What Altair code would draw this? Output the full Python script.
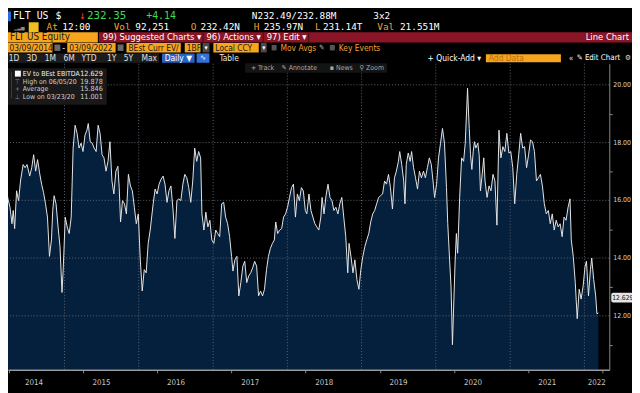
import altair as alt
import pandas as pd

# ---------------- data: EV to BEst EBITDA (FLT US), decimal year -> value ----------------
DEC_YEARS = [
    2014.185, 2014.212, 2014.238, 2014.265, 2014.292, 2014.309, 2014.328, 2014.354, 2014.381, 2014.407,
    2014.442, 2014.468, 2014.495, 2014.531, 2014.558, 2014.584, 2014.611, 2014.637, 2014.664, 2014.691,
    2014.717, 2014.744, 2014.770, 2014.797, 2014.824, 2014.841, 2014.860, 2014.886, 2014.913, 2014.939,
    2014.966, 2014.983, 2015.010, 2015.036, 2015.063, 2015.090, 2015.116, 2015.143, 2015.169, 2015.196,
    2015.223, 2015.249, 2015.276, 2015.302, 2015.320, 2015.346, 2015.373, 2015.399, 2015.426, 2015.453,
    2015.479, 2015.506, 2015.532, 2015.559, 2015.586, 2015.612, 2015.639, 2015.665, 2015.692, 2015.719,
    2015.737, 2015.755, 2015.781, 2015.808, 2015.834, 2015.861, 2015.888, 2015.914, 2015.941, 2015.967,
    2015.994, 2016.021, 2016.047, 2016.074, 2016.100, 2016.127, 2016.154, 2016.194, 2016.220, 2016.247,
    2016.273, 2016.300, 2016.327, 2016.353, 2016.380, 2016.406, 2016.433, 2016.460, 2016.486, 2016.513,
    2016.539, 2016.566, 2016.593, 2016.619, 2016.646, 2016.672, 2016.699, 2016.726, 2016.752, 2016.779,
    2016.805, 2016.832, 2016.849, 2016.876, 2016.902, 2016.929, 2016.956, 2016.982, 2017.009, 2017.035,
    2017.062, 2017.088, 2017.115, 2017.142, 2017.168, 2017.195, 2017.222, 2017.248, 2017.267, 2017.293,
    2017.320, 2017.346, 2017.373, 2017.400, 2017.426, 2017.453, 2017.479, 2017.506, 2017.533, 2017.559,
    2017.586, 2017.612, 2017.639, 2017.666, 2017.692, 2017.719, 2017.745, 2017.772, 2017.799, 2017.825,
    2017.843, 2017.869, 2017.896, 2017.923, 2017.949, 2017.976, 2018.002, 2018.029, 2018.056, 2018.082,
    2018.109, 2018.135, 2018.162, 2018.189, 2018.215, 2018.242, 2018.262, 2018.291, 2018.318, 2018.344,
    2018.371, 2018.397, 2018.424, 2018.451, 2018.468, 2018.494, 2018.521, 2018.548, 2018.574, 2018.601,
    2018.627, 2018.654, 2018.681, 2018.707, 2018.734, 2018.760, 2018.787, 2018.814, 2018.831, 2018.857,
    2018.884, 2018.910, 2018.937, 2018.964, 2018.990, 2019.017, 2019.044, 2019.070, 2019.097, 2019.123,
    2019.150, 2019.177, 2019.203, 2019.230, 2019.256, 2019.283, 2019.310, 2019.336, 2019.363, 2019.389,
    2019.416, 2019.443, 2019.469, 2019.496, 2019.514, 2019.541, 2019.568, 2019.585, 2019.602, 2019.629,
    2019.655, 2019.674, 2019.701, 2019.727, 2019.754, 2019.780, 2019.807, 2019.834, 2019.860, 2019.887,
    2019.913, 2019.940, 2019.967, 2019.984, 2020.011, 2020.037, 2020.064, 2020.090, 2020.117, 2020.144,
    2020.161, 2020.188, 2020.205, 2020.215, 2020.224, 2020.259, 2020.277, 2020.294, 2020.321, 2020.347,
    2020.374, 2020.396, 2020.427, 2020.440, 2020.450, 2020.467, 2020.485, 2020.503, 2020.520, 2020.538,
    2020.565, 2020.583, 2020.600, 2020.619, 2020.645, 2020.662, 2020.689, 2020.716, 2020.742, 2020.769,
    2020.795, 2020.822, 2020.849, 2020.875, 2020.902, 2020.928, 2020.955, 2020.982, 2021.008, 2021.035,
    2021.061, 2021.088, 2021.115, 2021.141, 2021.168, 2021.194, 2021.221, 2021.248, 2021.274, 2021.301,
    2021.327, 2021.354, 2021.381, 2021.407, 2021.434, 2021.460, 2021.487, 2021.514, 2021.540, 2021.567,
    2021.593, 2021.620, 2021.647, 2021.673, 2021.700, 2021.726, 2021.753, 2021.780, 2021.806, 2021.823,
    2021.850, 2021.877, 2021.903, 2021.930, 2021.956, 2021.983, 2022.009, 2022.028, 2022.055, 2022.081,
    2022.099, 2022.125, 2022.152, 2022.169, 2022.188,
]
VALUES = [
    17.18, 16.44, 16.05, 15.76, 15.19, 15.65, 15.02, 16.33, 15.99, 16.67,
    17.24, 17.13, 17.24, 16.84, 17.13, 17.58, 17.01, 17.41, 16.95, 16.56,
    16.27, 15.88, 15.42, 14.06, 14.63, 15.65, 16.16, 15.88, 15.08, 14.40,
    12.81, 13.66, 15.42, 15.08, 14.85, 15.42, 17.81, 18.60, 18.32, 17.81,
    17.98, 17.69, 18.26, 18.43, 18.66, 18.03, 17.98, 17.81, 17.69, 18.60,
    18.32, 17.58, 17.47, 17.01, 17.35, 18.03, 16.67, 16.22, 17.01, 17.18,
    16.44, 15.25, 15.99, 15.88, 15.53, 16.90, 16.50, 16.33, 15.76, 15.19,
    15.53, 13.94, 12.86, 13.60, 13.49, 14.51, 14.97, 15.88, 16.39, 16.22,
    16.56, 16.73, 16.84, 16.56, 15.93, 16.33, 16.50, 15.70, 14.68, 15.99,
    16.05, 15.99, 16.56, 16.90, 16.78, 16.44, 15.93, 16.67, 17.81, 17.35,
    17.69, 17.47, 15.53, 14.97, 15.59, 15.08, 15.31, 14.63, 14.51, 14.97,
    14.85, 14.74, 15.88, 15.93, 15.42, 15.19, 14.74, 14.06, 13.55, 13.94,
    14.06, 12.69, 13.15, 13.72, 13.89, 13.15, 13.38, 13.49, 13.66, 13.89,
    13.72, 12.69, 12.86, 12.69, 12.92, 13.60, 14.06, 14.34, 14.51, 14.63,
    15.25, 14.85, 14.97, 15.02, 15.42, 15.53, 15.76, 16.10, 16.44, 16.56,
    15.42, 16.22, 15.99, 16.44, 16.33, 15.65, 15.53, 16.22, 15.65, 15.42,
    15.19, 15.08, 14.97, 15.42, 16.10, 15.53, 16.16, 16.56, 16.10, 15.99,
    15.65, 15.76, 15.53, 15.88, 16.10, 15.42, 14.74, 13.49, 14.51, 14.06,
    13.49, 13.94, 13.26, 12.92, 13.60, 14.06, 14.40, 14.63, 14.85, 15.25,
    15.53, 15.65, 15.88, 16.10, 16.16, 16.22, 16.67, 16.56, 16.90, 16.44,
    15.70, 16.78, 17.01, 17.35, 17.69, 17.24, 16.67, 15.88, 17.24, 17.64,
    17.35, 17.69, 17.13, 16.78, 16.39, 17.01, 16.78, 17.01, 16.78, 17.13,
    17.47, 17.24, 16.56, 16.10, 16.56, 17.47, 17.98, 18.49, 17.98, 16.44,
    15.19, 13.83, 13.00, 12.00, 11.00, 13.83, 14.85, 14.17, 16.10, 17.47,
    17.35, 17.98, 19.88, 19.06, 18.49, 17.58, 17.07, 17.69, 18.03, 17.81,
    17.98, 17.58, 16.33, 16.78, 17.47, 16.67, 16.10, 16.50, 16.33, 16.90,
    16.67, 15.14, 18.43, 17.47, 17.86, 17.69, 18.32, 17.64, 17.69, 17.13,
    15.88, 16.90, 17.58, 18.32, 17.81, 17.86, 17.13, 17.58, 18.09, 18.03,
    17.69, 16.67, 16.78, 16.90, 16.50, 15.88, 15.53, 15.65, 15.19, 15.53,
    14.97, 15.31, 15.08, 15.19, 14.74, 15.42, 15.31, 15.76, 16.05, 14.63,
    14.06, 13.15, 11.90, 12.92, 12.58, 13.03, 13.72, 13.89, 12.69, 13.60,
    14.00, 13.26, 12.69, 12.07, 12.10,
]

YEAR_LABELS = ["2014", "2015", "2016", "2017", "2018", "2019", "2020", "2021", "2022"]
YEAR_LABEL_DATES = ["2014-08-04", "2015-07-02", "2016-07-02", "2017-07-02", "2018-07-02",
                    "2019-07-02", "2020-07-02", "2021-07-02", "2022-03-03"]
GRID_YEARS = ["2015-01-01", "2016-01-01", "2017-01-01", "2018-01-01", "2019-01-01",
              "2020-01-01", "2021-01-01", "2022-01-01"]
GRID_VALUES = [12, 14, 16, 18, 20]
Y_LABELS = ["12.00", "14.00", "16.00", "18.00", "20.00"]
Y_TICKS = [11, 12, 13, 14, 15, 16, 17, 18, 19, 20]
Y_MIN, Y_MAX = 10.13, 20.73
LAST_VALUE = 12.629
LAST_LABEL = "12.629"
LEGEND_ROWS = [("EV to BEst EBITDA", "12.629"), ("High on 06/05/20", "19.878"),
               ("Average", "15.846"), ("Low on 03/23/20", "11.001")]


def dec_to_ts(y):
    yr = int(y)
    start = pd.Timestamp(yr, 1, 1)
    end = pd.Timestamp(yr + 1, 1, 1)
    return start + (end - start) * (y - yr)


df = pd.DataFrame({"date": [dec_to_ts(v) for v in DEC_YEARS], "value": VALUES})

# ---------------- style ----------------
MONO = "DejaVu Sans Mono"
SANS = "Liberation Sans Narrow, DejaVu Sans Condensed, Roboto, sans-serif"
NAVY = "#05203d"
AMBER = "#f7a51c"
DARKRED = "#8a1526"
ORANGE = "#f0a030"
GREEN = "#3ddc55"
W, H = 609, 310
OX, OY = 8, 62  # page position of plot origin

BLANK = pd.DataFrame({"k": [0]})


def T(text, px, py, color="#ffffff", size=9, font=SANS, align="left", weight="normal"):
    return alt.Chart(BLANK).mark_text(
        text=text, align=align, baseline="middle", fontSize=size, font=font,
        color=color, fontWeight=weight
    ).encode(x=alt.value(px - OX), y=alt.value(py - OY))


def R(px1, px2, py1, py2, color, opacity=1.0):
    return alt.Chart(BLANK).mark_rect(color=color, opacity=opacity).encode(
        x=alt.value(px1 - OX), x2=alt.value(px2 - OX),
        y=alt.value(py1 - OY), y2=alt.value(py2 - OY))


quarters = [alt.DateTime(year=y, month=m, date=1)
            for y in range(2014, 2023) for m in (1, 4, 7, 10)
            if (2014, 4) <= (y, m) <= (2022, 4)]

is_year = "month(datum.value) == 0"
x_axis = alt.Axis(values=quarters, labels=False, title=None, grid=False,
                  tickSize={"condition": {"test": is_year, "value": 18}, "value": 3},
                  tickColor="#8a8a8a", domainColor="#9a9a9a", domainWidth=1.5, zindex=1)
y_axis = alt.Axis(orient="right", values=Y_TICKS, title=None, grid=False, labels=False,
                  tickSize=3, tickColor="#8a8a8a", domainColor="#8a8a8a", zindex=1)

x_enc = alt.X("date:T", axis=x_axis,
              scale=alt.Scale(domain=[alt.DateTime(year=2014, month=3, date=29),
                                      alt.DateTime(year=2022, month=5, date=3, hours=10)]))
y_enc = alt.Y("value:Q", axis=y_axis,
              scale=alt.Scale(domain=[Y_MIN, Y_MAX], nice=False, zero=False))

area = alt.Chart(df).mark_area(color=NAVY, clip=True).encode(
    x=x_enc, y=y_enc, y2=alt.datum(Y_MIN))

grid_style = dict(color="#5c6470", strokeDash=[1, 2], strokeWidth=1)
grid_y = alt.Chart(pd.DataFrame({"value": GRID_VALUES})).mark_rule(**grid_style).encode(y="value:Q")
grid_x = alt.Chart(pd.DataFrame({"date": GRID_YEARS})).mark_rule(**grid_style).encode(x="date:T")

line = alt.Chart(df).mark_line(color="#e6e6e6", strokeWidth=1, clip=True).encode(
    x="date:T", y="value:Q")

year_labels = alt.Chart(pd.DataFrame({"date": YEAR_LABEL_DATES, "label": YEAR_LABELS})).mark_text(
    color="#c8c8c8", fontSize=8, font=SANS, baseline="middle"
).encode(x="date:T", y=alt.value(323), text="label:N")

y_labels = alt.Chart(pd.DataFrame({"value": GRID_VALUES, "label": Y_LABELS})).mark_text(
    color="#d0d0d0", fontSize=7, font=SANS, baseline="middle", align="left"
).encode(y="value:Q", x=alt.value(613), text="label:N")

tag_rect = alt.Chart(BLANK).mark_rect(color="#e4e4e4", cornerRadius=2).encode(
    x=alt.value(611), x2=alt.value(640), y=alt.datum(LAST_VALUE + 0.17), y2=alt.datum(LAST_VALUE - 0.17))
tag_text = alt.Chart(BLANK).mark_text(text=LAST_LABEL, color="#111111", fontSize=6.8, font=SANS,
                                      align="left", baseline="middle").encode(
    x=alt.value(612), y=alt.datum(LAST_VALUE))

layers = [area, grid_y, grid_x, line, year_labels, y_labels, tag_rect, tag_text]

# ---------------- header (terminal chrome) ----------------
Y1, Y2 = 14, 25
B3, C3 = (30, 40.5), 35.3
B4, C4 = (41, 50.5), 45.8
B5, C5 = (51.5, 61), 56.3

hdr = [
    R(8, 11, 9, 19, "#2f6bd8"),
    T("FLT US", 13, Y1, "#ffffff", 10, MONO),
    T("$", 56, Y1, "#ffffff", 10, MONO),
    T("↓", 80, Y1, "#ff3030", 11, MONO),
    T("232.35", 88, Y1, GREEN, 11, MONO),
    T("+4.14", 148, Y1, GREEN, 10, MONO),
    T("N232.49/232.88M", 255, Y1, "#ffffff", 9.5, MONO),
    T("3x2", 378, Y1, "#ffffff", 9.5, MONO),
    T("▁▂▄", 14, Y2, "#8a8a8a", 6, MONO),
    R(29, 39, Y2 - 5, Y2 + 5, "#f0c020"),
    T("At", 47, Y2, ORANGE, 9.5, MONO), T("12:00", 63, Y2, "#ffffff", 9.5, MONO),
    T("Vol", 115, Y2, ORANGE, 9.5, MONO), T("92,251", 137, Y2, "#ffffff", 9.5, MONO),
    T("O", 193, Y2, ORANGE, 9.5, MONO), T("232.42N", 203, Y2, "#ffffff", 9.5, MONO),
    T("H", 257, Y2, ORANGE, 9.5, MONO), T("235.97N", 267, Y2, "#ffffff", 9.5, MONO),
    T("L", 319, Y2, ORANGE, 9.5, MONO), T("231.14T", 327, Y2, "#ffffff", 9.5, MONO),
    T("Val", 382, Y2, ORANGE, 9.5, MONO), T("21.551M", 405, Y2, "#ffffff", 9.5, MONO),
    # row 3
    R(8, 99, B3[0], B3[1], AMBER),
    T("FLT US Equity", 10, C3, "#1a1a1a", 10),
    R(100, 640, B3[0], B3[1], DARKRED),
    R(205, 206, B3[0], B3[1], "#4a0a14"), R(266, 267, B3[0], B3[1], "#4a0a14"),
    R(312, 313, B3[0], B3[1], "#4a0a14"),
    T("99) Suggested Charts  ▾", 104, C3, "#ffffff", 9.5),
    T("96) Actions  ▾", 209, C3, "#ffffff", 9.5),
    T("97) Edit  ▾", 270, C3, "#ffffff", 9.5),
    T("Line Chart", 637, C3, "#ffffff", 9.5, align="right"),
    # row 4
    R(8, 53, B4[0], B4[1], AMBER), T("03/09/2014", 9.5, C4, "#1a1a1a", 8.5),
    R(55, 61, B4[0] + 1.5, B4[1] - 1.5, "#6a6a6a"),
    T("-", 63, C4, "#ffffff", 9),
    R(68, 117, B4[0], B4[1], AMBER), T("03/09/2022", 70, C4, "#1a1a1a", 8.5),
    R(119, 125, B4[0] + 1.5, B4[1] - 1.5, "#6a6a6a"),
    R(128, 183, B4[0], B4[1], AMBER), T("BEst Curr EV/", 130, C4, "#1a1a1a", 8.5),
    R(187, 203, B4[0], B4[1], AMBER), T("1BF", 189, C4, "#1a1a1a", 8.5),
    R(205, 212, B4[0], B4[1], "#4a4a4a"), T("▾", 208.5, C4, "#ffffff", 7, align="center"),
    R(216, 262, B4[0], B4[1], AMBER), T("Local CCY", 218, C4, "#1a1a1a", 8.5),
    R(264, 270, B4[0], B4[1], "#4a4a4a"), T("▾", 267, C4, "#ffffff", 7, align="center"),
    R(275, 280, B4[0] + 2, B4[1] - 2, "#555555"),
    T("Mov Avgs", 284, C4, ORANGE, 8.5),
    T("✎", 323, C4, "#aaaaaa", 7.5),
    R(334, 339, B4[0] + 2, B4[1] - 2, "#555555"),
    T("Key Events", 343, C4, ORANGE, 8.5),
    # row 5
    R(8, 161, B5[0], B5[1], "#1c1c1c"),
    T("1D", 14, C5, "#e0e0e0", 8.5, align="center"),
    T("3D", 32, C5, "#e0e0e0", 8.5, align="center"),
    T("1M", 51, C5, "#e0e0e0", 8.5, align="center"),
    T("6M", 70, C5, "#e0e0e0", 8.5, align="center"),
    T("YTD", 90, C5, "#e0e0e0", 8.5, align="center"),
    T("1Y", 113, C5, "#e0e0e0", 8.5, align="center"),
    T("5Y", 130, C5, "#e0e0e0", 8.5, align="center"),
    T("Max", 151, C5, "#e0e0e0", 8.5, align="center"),
    R(164, 197, B5[0], B5[1], "#2563c4"), T("Daily ▼", 180.5, C5, "#ffffff", 8.5, align="center"),
    R(199, 212, B5[0], B5[1], "#3470d8"), T("∿", 205.5, C5, "#ffffff", 8, align="center"),
    T("Table", 232, C5, "#e8e8e8", 8.5, align="center"),
    T("+ Quick-Add  ▾", 433, C5, "#ffffff", 8.5),
    R(492, 568, B5[0] + 1, B5[1] - 0.5, AMBER), T("Add Data", 495, C5, "#b8700a", 8.5),
    T("«", 576, C5, "#dddddd", 8.5), T("✎ Edit Chart", 584, C5, "#ffffff", 8),
    T("⚙", 636, C5, "#dddddd", 7.5, align="center"),
    # row 6 (chart toolbar)
    R(248, 392, 61.5, 71, "#141414"),
    T("+ Track", 254, 66.5, "#a8a8a8", 7),
    T("✎ Annotate", 285, 66.5, "#a8a8a8", 7),
    T("▪ News", 334, 66.5, "#a8a8a8", 7),
    T("⚲ Zoom", 364, 66.5, "#a8a8a8", 7),
    # legend box
    R(7, 108, 66.5, 103.5, "#1a1a1a", 0.95),
    R(11, 11.6, 70, 97, "#555555"),
    R(15, 21, 69, 75, "#ffffff"),
]
legend_y = [72, 80, 88, 96]
icons = ["", "⊤", "+", "⊥"]
for i, (lab, val) in enumerate(LEGEND_ROWS):
    col = "#f2f2f2" if i == 0 else "#cfcfcf"
    if icons[i]:
        hdr.append(T(icons[i], 17.5, legend_y[i], "#8a8a8a", 6.5, align="center"))
    hdr.append(T(lab, 23, legend_y[i], col, 7))
    hdr.append(T(val, 104, legend_y[i], col, 7.3, align="right"))

chart = alt.layer(*(layers + hdr)).properties(
    width=W, height=H,
    padding={"left": 0, "top": 54, "right": 23, "bottom": 21},
    autosize=alt.AutoSizeParams(type="none"),
    background="#000000",
).configure_view(stroke=None)

chart.save("out.html", embed_options={"renderer": "svg", "actions": False})
